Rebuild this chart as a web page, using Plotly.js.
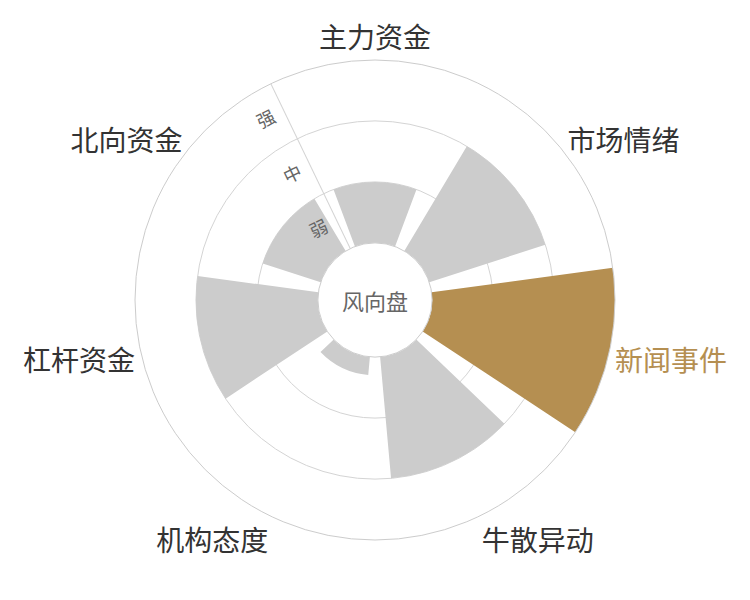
<!DOCTYPE html>
<html>
<head>
<meta charset="utf-8">
<script src="https://cdn.plot.ly/plotly-3.0.1.min.js"></script>
<style>
    html, body { margin: 0; padding: 0; background: #fff; }
    #chart { width: 750px; height: 600px; }
</style>
</head>
<body>
<div id="chart"></div>
<script>
/* 风向盘 - 数据 */
const categories = ['主力资金', '市场情绪', '新闻事件', '牛散异动', '机构态度', '杠杆资金', '北向资金'];
const strength = [1, 2, 3, 2, 0.3, 2, 1];
const highlight = '新闻事件';
const levelVals = [0.5, 1.5, 2.5];
const levelText = ['弱', '中', '强'];
const gridVals = [0, 1, 2];

const gold = '#b58f51';
const gray = '#cccccc';
const fontFamily = '"Noto Sans CJK SC", "Noto Sans", sans-serif';

const barColors = categories.map(function (c) { return c === highlight ? gold : gray; });
const tickLabels = categories.map(function (c) {
    return c === highlight ? '<span style="color:' + gold + '">' + c + '</span>' : c;
});

// 径向轴放在 主力资金 与 北向资金 之间
const axisAngle = 90 + 360 / categories.length / 2;

const domain = { x: [0.18, 0.82], y: [0.1, 0.9] };
const hole = 0.238;

const traces = [
    {
        type: 'barpolar',
        r: strength,
        theta: categories,
        marker: { color: barColors, line: { width: 0 } },
        hoverinfo: 'theta+r',
        subplot: 'polar'
    },
    {
        // 只用来承载第二层的刻度文字
        type: 'scatterpolar',
        r: levelVals,
        theta: categories.slice(0, levelVals.length),
        mode: 'markers',
        marker: { opacity: 0 },
        hoverinfo: 'skip',
        subplot: 'polar2'
    }
];

const layout = {
    width: 750,
    height: 600,
    margin: { t: 0, b: 0, l: 0, r: 0 },
    paper_bgcolor: '#fff',
    showlegend: false,
    font: { family: fontFamily, color: '#333' },
    polar: {
        domain: domain,
        hole: hole,
        bargap: 0.2,
        bgcolor: '#fff',
        angularaxis: {
            direction: 'clockwise',
            rotation: 90,
            showgrid: false,
            showline: true,
            linecolor: '#cccccc',
            linewidth: 1,
            ticks: '',
            tickmode: 'array',
            tickvals: categories,
            ticktext: tickLabels,
            tickfont: { size: 28, color: '#333', family: fontFamily }
        },
        radialaxis: {
            range: [0, 3],
            angle: axisAngle,
            tickmode: 'array',
            tickvals: gridVals,
            showticklabels: false,
            ticks: '',
            showgrid: true,
            gridcolor: '#d4d4d4',
            gridwidth: 1,
            showline: true,
            linecolor: '#d4d4d4',
            linewidth: 1
        }
    },
    polar2: {
        domain: domain,
        hole: hole,
        bgcolor: 'rgba(0,0,0,0)',
        angularaxis: {
            direction: 'clockwise',
            rotation: 90,
            visible: false,
            showgrid: false,
            showline: false
        },
        radialaxis: {
            range: [0, 3],
            angle: axisAngle,
            side: 'counterclockwise',
            tickmode: 'array',
            tickvals: levelVals,
            ticktext: levelText,
            tickangle: 90,
            ticks: 'outside',
            ticklen: 4,
            tickcolor: 'rgba(0,0,0,0)',
            showgrid: false,
            showline: false,
            tickfont: { size: 18, color: '#666', family: fontFamily }
        }
    },
    annotations: [{
        text: '风向盘',
        x: 0.5, y: 0.5,
        xref: 'paper', yref: 'paper',
        showarrow: false,
        font: { size: 22, color: '#666', family: fontFamily }
    }]
};

Plotly.newPlot('chart', traces, layout, { displayModeBar: false, responsive: false });
</script>
</body>
</html>
